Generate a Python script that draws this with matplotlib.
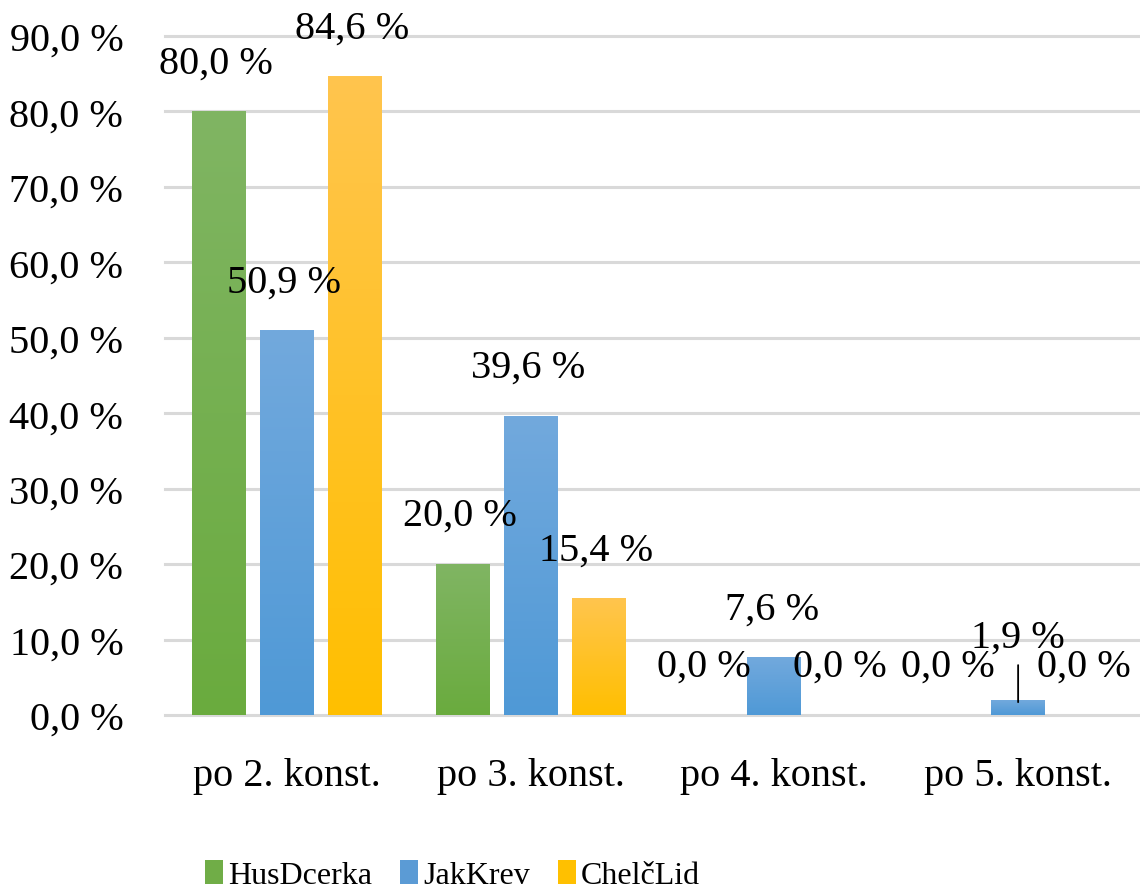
import matplotlib.pyplot as plt
import numpy as np
from matplotlib.colors import LinearSegmentedColormap
from matplotlib.patches import Patch

categories = ["po 2. konst.", "po 3. konst.", "po 4. konst.", "po 5. konst."]
series_names = ["HusDcerka", "JakKrev", "ChelčLid"]
hus_dcerka = [80.0, 20.0, 0.0, 0.0]
jak_krev = [50.9, 39.6, 7.6, 1.9]
chelc_lid = [84.6, 15.4, 0.0, 0.0]
yticks = np.arange(0, 91, 10)

# (top colour, bottom colour) of the gradient fill
colors = [("#80b563", "#6aab3e"), ("#72a9dd", "#4f99d6"), ("#ffc54e", "#ffbf00")]
base_colors = ["#70ad47", "#5b9bd5", "#ffc000"]

plt.rcParams["font.family"] = ["Liberation Serif", "DejaVu Serif"]

fig = plt.figure(figsize=(11.4, 8.95), dpi=100)
ax = fig.add_axes([0.1447, 0.2, 0.8553, 0.7587])

x = np.arange(len(categories))
bar_w = 0.2215
step = 0.279
series = [hus_dcerka, jak_krev, chelc_lid]

grad = np.linspace(1, 0, 256).reshape(-1, 1)
for i, vals in enumerate(series):
    cmap = LinearSegmentedColormap.from_list("g%d" % i, [colors[i][1], colors[i][0]])
    xs = x + (i - 1) * step
    for xc, v in zip(xs, vals):
        if v <= 0:
            continue
        ax.imshow(grad, cmap=cmap, aspect="auto", vmin=0, vmax=1,
                  extent=(xc - bar_w / 2, xc + bar_w / 2, 0, v), zorder=2,
                  interpolation="bilinear")
    for xc, v in zip(xs, vals):
        label = f"{v:.1f} %".replace(".", ",")
        if v == 1.9:
            # small bar: label lifted higher with a leader line
            ax.annotate(label, xy=(xc, v - 0.2), xytext=(0, 47), textcoords="offset points",
                        ha="center", va="center", fontsize=29, zorder=5,
                        arrowprops=dict(arrowstyle="-", color="black", lw=1.3,
                                        shrinkA=5, shrinkB=0))
        else:
            ax.annotate(label, xy=(xc - 0.01, v), xytext=(0, 35), textcoords="offset points",
                        ha="center", va="center", fontsize=29, zorder=5)

ax.set_xlim(-0.5, len(categories) - 0.5)
ax.set_ylim(0, 90)

for y in yticks:
    ax.axhline(y, color="#d9d9d9", lw=2.2, zorder=1, clip_on=False)

for s in ax.spines.values():
    s.set_visible(False)

ax.set_yticks(yticks)
ax.set_yticklabels([f"{v:.1f} %".replace(".", ",") for v in yticks], fontsize=29)
ax.set_xticks(x)
ax.set_xticklabels(categories, fontsize=29)
ax.tick_params(axis="y", length=0, pad=30)
ax.tick_params(axis="x", length=0, pad=30)

handles = [Patch(facecolor=c, edgecolor="none") for c in base_colors]
fig.legend(handles, series_names, loc="center", bbox_to_anchor=(0.397, 0.021),
           ncol=3, frameon=False, fontsize=23, handlelength=0.55, handleheight=0.8,
           handletextpad=0.15, columnspacing=0.9)

fig.savefig("out.png", dpi=100)
